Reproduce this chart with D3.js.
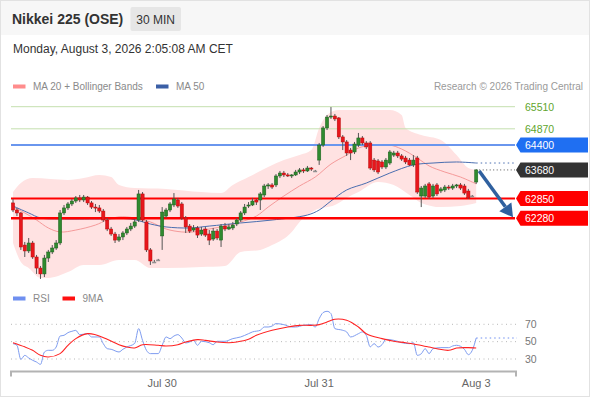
<!DOCTYPE html>
<meta charset="utf-8">
<script src="https://d3js.org/d3.v7.min.js"></script>
<style>
  body { margin: 0; background: #fff; }
  svg text { font-family: "Liberation Sans", Arial, sans-serif; }
</style>
<body>
<div id="chart"></div>
<script>

// ---- data ----
// 30 min candles, [open, high, low, close]
const ohlc = [
  [62725,62840,62460,62520],[62520,62580,62345,62435],[62435,62460,61365,61450],[61505,61595,61160,61335],
  [61335,61710,61275,61565],[61565,61625,61105,61160],[61160,61220,60670,60840],[60840,60900,60525,60670],
  [60670,61220,60580,61130],[61130,61365,61015,61305],[61305,61505,61245,61420],[61420,61650,61365,61565],
  [61565,62520,61505,62435],[62435,62665,62375,62580],[62580,62750,62520,62695],[62695,62840,62635,62780],
  [62780,62925,62725,62870],[62870,62955,62750,62810],[62810,62955,62750,62895],[62895,62925,62665,62725],
  [62725,62780,62550,62605],[62605,62695,62460,62580],[62580,62665,62435,62490],[62490,62550,62175,62230],
  [62230,62290,61910,61970],[61970,62030,61770,61825],[61825,61885,61565,61650],[61650,61825,61595,61740],
  [61740,61910,61650,61855],[61855,62030,61795,61970],[61970,62145,61910,62055],[62055,62260,62000,62175],
  [62230,63100,62175,62985],[62985,63040,62175,62230],[62175,62230,61305,61365],[61365,61420,60930,61045],
  [61015,61075,60985,61015],[61075,61105,61045,61075],[61770,62605,61365,62460],[62345,62580,62290,62520],
  [62520,62750,62460,62695],[62665,63010,62605,62840],[62810,62870,62580,62635],[62695,62750,62230,62290],
  [62290,62345,61855,62030],[62055,62115,61855,61910],[61940,62085,61885,62000],[62000,62055,61710,61795],
  [61825,62030,61770,61940],[61970,62030,61740,61795],[61825,61940,61505,61650],[61680,62000,61625,61910],
  [61910,61970,61650,61710],[61650,62115,61450,62055],[62055,62145,61910,61970],[61970,62115,61940,62030],
  [62000,62175,61940,62085],[62115,62290,62055,62230],[62230,62490,62175,62435],[62435,62695,62375,62605],
  [62635,62750,62580,62665],[62665,62870,62635,62780],[62810,62840,62665,62750],[62810,63040,62520,62985],
  [62955,63275,62895,63215],[63215,63300,63130,63245],[63245,63300,63130,63185],[63245,63560,63185,63505],
  [63505,63650,63445,63590],[63590,63650,63475,63535],[63535,63590,63475,63505],[63505,63560,63445,63535],
  [63535,63680,63505,63620],[63620,63735,63560,63680],[63680,63735,63590,63650],[63650,63795,63620,63735],
  [63735,63765,63650,63705],[63650,63680,63620,63650],[63965,64460,63825,64400],[64400,64950,64345,64895],
  [64895,65270,64835,65210],[65210,65500,65155,65240],[65240,65300,65095,65155],[65185,65210,64575,64635],
  [64635,64690,64255,64490],[64490,64545,64085,64170],[64255,64315,63965,64170],[64200,64490,64140,64430],
  [64400,64750,64345,64605],[64605,64660,64400,64460],[64460,64515,64285,64345],[64460,64515,63680,63735],
  [63965,64025,63620,63680],[63940,63995,63560,63620],[63910,63965,63705,63765],[63765,64025,63705,63965],
  [63880,64255,63825,64200],[64110,64230,64055,64170],[64170,64230,64025,64085],[64085,64140,63940,63995],
  [64025,64085,63850,63910],[63965,64025,63795,63825],[63825,64110,63765,63965],[64025,64085,62985,63040],
  [62925,63215,62605,63155],[62925,63275,62870,63215],[63275,63330,62840,62895],[62925,63275,62870,63215],
  [63245,63300,62925,62985],[63070,63185,63010,63130],[63100,63245,63040,63185],[63185,63245,63100,63155],
  [63155,63275,63100,63215],[63215,63275,63155,63245],[63245,63300,63100,63155],[63215,63275,62955,63010],
  [63070,63130,62840,62870],[62925,62955,62895,62925],[63330,63705,63275,63680]
];

// indicator readings, [candle index, value]
const ma20 = [[0,62605],[3,62435],[6,62230],[9,62000],[12,61885],[16,61940],[21,62085],[24,62230],[27,62320],
  [31,62290],[35,62175],[39,61970],[43,61885],[46,61885],[50,61970],[54,62055],[58,62175],[62,62345],[65,62605],
  [69,62925],[73,63215],[77,63475],[81,63850],[85,64110],[88,64315],[92,64400],[96,64400],[99,64285],[103,64025],
  [106,63795],[110,63620],[114,63475],[118,63275]];
const ma50 = [[0,62635],[4,62435],[7,62290],[12,62260],[22,62260],[30,62260],[35,62115],[39,62030],[45,62000],
  [50,62055],[58,62145],[66,62230],[75,62375],[78,62520],[81,62780],[85,63100],[90,63300],[96,63590],[102,63825],
  [107,63880],[113,63910],[118,63880]];
const bbUpper = [[0,63040],[2,63300],[5,63445],[14,63390],[18,63445],[22,63535],[25,63475],[27,63245],[31,63155],
  [39,63130],[48,63040],[53,63010],[56,63245],[60,63475],[65,63765],[69,63965],[73,64110],[76,64255],[78,64895],
  [80,65270],[83,65415],[96,65415],[99,65270],[100,64895],[104,64690],[109,64545],[113,64110],[116,63735],[118,63680]];
const bbLower = [[0,61565],[2,61015],[4,60840],[7,60555],[9,60555],[14,60725],[18,60930],[22,60930],[27,61075],
  [31,61075],[35,60840],[39,60840],[48,60870],[54,60900],[58,61305],[63,61365],[66,61505],[71,61885],[73,62175],
  [77,62520],[82,62665],[85,62870],[88,63040],[93,63330],[97,63245],[101,62955],[104,62725],[109,62605],
  [114,62635],[118,62725]];

const rsi = [[0,47.7],[1,45.8],[2,29.6],[3,34.2],[4,31.2],[5,28.5],[6,26.5],[7,23.8],[8,38],[9,40],[10,40],
  [11,43.8],[12,56.5],[13,57.3],[14,60.4],[15,61.9],[16,63],[17,58],[19,59.2],[20,55.4],[22,55.4],[23,47.7],
  [24,41.9],[25,41.2],[27,38.1],[28,41.2],[29,43.8],[31,48],[32,65],[33,51.5],[34,40],[35,36.2],[37,36.2],
  [38,45.8],[39,55.4],[40,53.5],[41,56.5],[42,58.1],[43,54.2],[44,48.5],[45,49.6],[46,51.5],[47,45.8],[48,50.4],
  [50,48.8],[51,46.5],[52,50.4],[54,50.4],[56,53.5],[58,55.4],[60,59.2],[61,61.2],[63,63.1],[64,66.9],[65,66.9],
  [66,68],[67,70.8],[69,69.6],[71,66.9],[72,66.9],[74,68.8],[76,69.6],[77,66.9],[78,76.5],[79,83.5],[80,85],
  [81,82.3],[82,65],[84,63.1],[85,61.2],[86,55.4],[88,59.2],[89,61.2],[90,57.3],[91,44],[92,47.7],[93,43.8],
  [94,46.5],[95,52.7],[97,51.5],[98,50.4],[99,48.8],[101,47.7],[102,48.8],[103,34.2],[104,36],[105,41.9],
  [106,36.2],[107,41.9],[109,43.1],[111,43.1],[112,45],[113,45.8],[115,41.2],[116,35],[117,40],[118,54.2]];
const rsi9ma = [[0,48.8],[3,44],[5,40],[7,34.2],[9,32.3],[12,36.2],[14,45.8],[16,53.5],[19,59.2],[21,58],
  [24,52.7],[27,46.5],[29,43.8],[31,42.7],[33,46.5],[37,45.8],[39,45],[42,46.5],[44,49.6],[47,52.3],[49,51.5],
  [52,49.6],[55,48.8],[57,49.6],[60,52.7],[62,57.3],[66,63.1],[70,66.9],[73,68.8],[76,68.8],[78,69.6],[80,72.7],
  [82,75.8],[85,74.6],[88,66.9],[90,59.2],[94,53.5],[97,50.4],[100,48.8],[103,46.5],[106,43.8],[108,41.9],
  [111,40],[113,42.7],[116,43.1],[118,42.7]];

// key levels
const levels = [65510, 64870, 64400, 63680, 62850, 62280];
const levelKinds = ["target", "target", "pivot", "last", "support", "support"];
const targetPrice = 62280;

const rsiTicks = [70, 50, 30];
const dayLabels = ["Jul 30", "Jul 31", "Aug 3"];
const dayIdx = [38, 78, 118];

// ---- layout ----
const W = 590, H = 400;
const left = 11, right = 515;

const svg = d3.select("#chart")
  .append("svg")
    .attr("width", W)
    .attr("height", H);

// card + header
svg.append("rect").attr("x", 0.5).attr("y", 0.5).attr("width", W - 1).attr("height", 396)
  .attr("fill", "#fff").attr("stroke", "#e2e2e2");
svg.append("rect").attr("x", 1).attr("y", 1).attr("width", W - 2).attr("height", 34).attr("fill", "#f7f7f7");

svg.append("text").attr("x", 12).attr("y", 24).attr("font-size", 14).attr("font-weight", "bold")
  .attr("fill", "#333").text("Nikkei 225 (OSE)");
svg.append("rect").attr("x", 130.5).attr("y", 7).attr("width", 50.5).attr("height", 24).attr("rx", 2)
  .attr("fill", "#e6e6e6");
svg.append("text").attr("x", 155.7).attr("y", 23.5).attr("font-size", 12).attr("text-anchor", "middle")
  .attr("fill", "#333").text("30 MIN");
svg.append("text").attr("x", 13).attr("y", 53).attr("font-size", 12).attr("fill", "#333")
  .text("Monday, August 3, 2026 2:05:08 AM CET");

// legend
function legendItem(x0, yy, color, label) {
  svg.append("rect").attr("x", x0).attr("y", yy - 2).attr("width", 12.5).attr("height", 4).attr("fill", color);
  svg.append("text").attr("x", x0 + 20).attr("y", yy + 3.5).attr("font-size", 10).attr("fill", "#8a8a8a").text(label);
}
legendItem(13, 86.5, "#ff8c8c", "MA 20 + Bollinger Bands");
legendItem(156, 86.5, "#3b5fa6", "MA 50");
svg.append("text").attr("x", 583).attr("y", 90).attr("font-size", 10).attr("text-anchor", "end")
  .attr("fill", "#9a9a9a").text("Research \u00a9 2026 Trading Central");

// ---- scales ----
const x = d3.scaleLinear().domain([0, 118]).range([13, 476.2]);
const y = d3.scaleLinear().domain([62280, 65510]).range([218.3, 106.7]);
const ry = d3.scaleLinear().domain([30, 70]).range([359, 324.3]);

// bollinger band
const bandLine = d3.line().x(d => x(d[0])).y(d => y(d[1])).curve(d3.curveMonotoneX);
const upPath = bandLine(bbUpper);
const lowPath = bandLine(bbLower.slice().reverse());
svg.append("path")
  .attr("d", upPath + lowPath.replace(/^M/, "L") + "Z")
  .attr("fill", "#ffe2e2");

// moving averages
const maLine = d3.line().x(d => x(d[0])).y(d => y(d[1])).curve(d3.curveCatmullRom);
svg.append("path").attr("d", maLine(ma20)).attr("fill", "none").attr("stroke", "#f59a9a").attr("stroke-width", 1);
svg.append("path").attr("d", maLine(ma50)).attr("fill", "none").attr("stroke", "#4a6eb0").attr("stroke-width", 1);
const lastMa50 = ma50[ma50.length - 1];
svg.append("line")
  .attr("x1", x(lastMa50[0])).attr("x2", right)
  .attr("y1", y(lastMa50[1])).attr("y2", y(lastMa50[1]))
  .attr("stroke", "#4a6eb0").attr("stroke-dasharray", "1.5,3");

// level lines
const lineStyle = {
  target: { stroke: "#c4dfae", w: 1 },
  pivot: { stroke: "#6a96ee", w: 2 },
  support: { stroke: "#ff0000", w: 2 }
};
levels.forEach((lv, i) => {
  const k = levelKinds[i];
  if (k === "last") {
    svg.append("line").attr("x1", x(118) + 3).attr("x2", right).attr("y1", y(lv)).attr("y2", y(lv))
      .attr("stroke", "#555").attr("stroke-dasharray", "1,2.5");
    return;
  }
  svg.append("line").attr("x1", left).attr("x2", right).attr("y1", y(lv)).attr("y2", y(lv))
    .attr("stroke", lineStyle[k].stroke)
    .attr("stroke-width", lv === targetPrice ? 2.5 : lineStyle[k].w);
});

// candles
const candles = svg.append("g").selectAll("g").data(ohlc).join("g");
candles.append("line")
  .attr("x1", (d, i) => x(i)).attr("x2", (d, i) => x(i))
  .attr("y1", d => y(d[1])).attr("y2", d => y(d[2]))
  .attr("stroke", "#555").attr("stroke-width", 1);
candles.append("rect")
  .attr("x", (d, i) => x(i) - 1.6)
  .attr("width", 3.2)
  .attr("y", d => y(Math.max(d[0], d[3])))
  .attr("height", d => Math.max(1, Math.abs(y(d[0]) - y(d[3]))))
  .attr("fill", d => d[3] > d[0] ? "#2f8a2f" : d[3] < d[0] ? "#e8161c" : "#999")
  .attr("stroke", d => d[3] > d[0] ? "#1d5e1d" : d[3] < d[0] ? "#b80a0a" : "#888")
  .attr("stroke-width", 0.5);

// level tags on the right
const tagColor = { pivot: "#1f6ff2", last: "#333333", support: "#ff0000" };
levels.forEach((lv, i) => {
  const k = levelKinds[i];
  const yy = y(lv);
  if (k === "target") {
    svg.append("text").attr("x", 525).attr("y", yy + 4).attr("font-size", 10.5)
      .attr("fill", "#5fa52d").text(lv);
    return;
  }
  svg.append("path")
    .attr("d", `M${right + 1},${yy} L${right + 5.5},${yy - 7.5} L588,${yy - 7.5} L588,${yy + 7.5} L${right + 5.5},${yy + 7.5} Z`)
    .attr("fill", tagColor[k]);
  svg.append("text").attr("x", 525).attr("y", yy + 4).attr("font-size", 10.5)
    .attr("fill", "#fff").text(lv);
});

// forecast arrow
const last = ohlc[ohlc.length - 1];
const ax0 = x(118) + 3, ay0 = y(last[3]) + 1;
const ax1 = 513, ay1 = y(targetPrice) - 1;
const dx = ax1 - ax0, dy = ay1 - ay0, len = Math.hypot(dx, dy);
const ux = dx / len, uy = dy / len;
const bx = ax1 - ux * 13, by = ay1 - uy * 13;
svg.append("line").attr("x1", ax0).attr("y1", ay0).attr("x2", bx).attr("y2", by)
  .attr("stroke", "#2f609f").attr("stroke-width", 3.5);
svg.append("path")
  .attr("d", `M${ax1},${ay1} L${bx - uy * 7.5},${by + ux * 7.5} L${bx + uy * 7.5},${by - ux * 7.5} Z`)
  .attr("fill", "#2f609f");

// ---- RSI panel ----
legendItem(13, 298.5, "#6f8ff0", "RSI");
legendItem(62.5, 298.5, "#ff1010", "9MA");

rsiTicks.forEach(t => {
  svg.append("line").attr("x1", left).attr("x2", 517).attr("y1", ry(t)).attr("y2", ry(t))
    .attr("stroke", "#b8b8b8").attr("stroke-dasharray", "1,3.5");
  svg.append("text").attr("x", 525).attr("y", ry(t) + 3.5).attr("font-size", 10.5)
    .attr("fill", "#777").text(t);
});

const rLine = d3.line().x(d => x(d[0])).y(d => ry(d[1]));
svg.append("path").attr("d", rLine.curve(d3.curveMonotoneX)(rsi)).attr("fill", "none")
  .attr("stroke", "#7e9cf0").attr("stroke-width", 1);
svg.append("path").attr("d", rLine.curve(d3.curveCatmullRom)(rsi9ma)).attr("fill", "none")
  .attr("stroke", "#f22").attr("stroke-width", 1.1);
const lastRsi = rsi[rsi.length - 1];
svg.append("line").attr("x1", x(lastRsi[0])).attr("x2", 517)
  .attr("y1", ry(lastRsi[1])).attr("y2", ry(lastRsi[1]))
  .attr("stroke", "#6f8ff0").attr("stroke-dasharray", "1.5,3");

// time axis
const axY = 371.5;
svg.append("path")
  .attr("d", `M${left},${axY + 5} V${axY} H516 V${axY + 5}`)
  .attr("fill", "none").attr("stroke", "#b3b3b3").attr("stroke-width", 2);
dayIdx.forEach((d, i) => {
  svg.append("text").attr("x", x(d)).attr("y", 386.5).attr("font-size", 11)
    .attr("text-anchor", "middle").attr("fill", "#666").text(dayLabels[i]);
});

</script>
</body>
